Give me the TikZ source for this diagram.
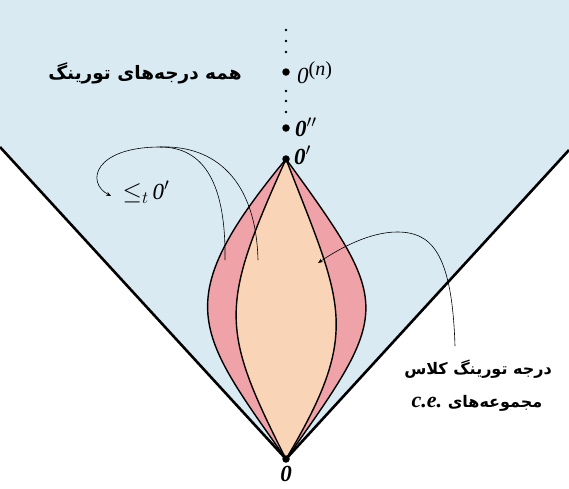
\documentclass[tikz,border=0pt]{standalone}
\usepackage{fontspec}
\setmainfont{Liberation Serif}
\newfontfamily\persian[Script=Arabic]{DejaVu Sans}
\TeXXeTstate=1
\usetikzlibrary{arrows.meta}

\definecolor{skyfill}{HTML}{D9EAF3}
\definecolor{bandfill}{HTML}{EFA2A8}
\definecolor{corefill}{HTML}{FAD4B6}

\tikzset{
  degree/.style={circle, fill=black, inner sep=0pt, minimum size=7.5pt},
  smalldot/.style={circle, fill=black, inner sep=0pt, minimum size=2.8pt},
  degname/.style={inner sep=1pt, font=\fontsize{23}{26}\selectfont},
  persianlbl/.style={inner sep=1pt, font=\persian\bfseries\fontsize{16}{19}\selectfont},
  lensline/.style={line width=1.4pt},
  thinline/.style={line width=0.6pt},
  pointer/.style={thinline, -{Stealth[length=5pt, width=4pt]}}
}

\begin{document}
\begin{tikzpicture}[x=1pt, y=-1pt]
  \useasboundingbox (0,0) rectangle (569,488);
  \fill[skyfill] (0,0) -- (569,0) -- (569,150) -- (286,459) -- (0,147) -- cycle;
  \draw[line width=2.6pt] (0,147) -- (286,459) -- (569,150);

  \coordinate (lenstop) at (286,159);
  \coordinate (lensbottom) at (286,459);

  \fill[bandfill] (lenstop) .. controls (167,303) and (197,332) .. (lensbottom)
    .. controls (392,310) and (393,306) .. (lenstop);
  \fill[corefill] (lenstop) .. controls (220,306) and (219,327) .. (lensbottom)
    .. controls (363,330) and (342,304) .. (lenstop);
  \draw[lensline] (lenstop) .. controls (167,303) and (197,332) .. (lensbottom);
  \draw[lensline] (lenstop) .. controls (393,306) and (392,310) .. (lensbottom);
  \draw[lensline] (lenstop) .. controls (220,306) and (219,327) .. (lensbottom);
  \draw[lensline] (lenstop) .. controls (342,304) and (363,330) .. (lensbottom);

  \node[degree] (zero) at (lensbottom) {};
  \node[degree] (jump) at (lenstop) {};
  \node[degree] (jumpjump) at (286,128) {};
  \node[degree] (jumpn) at (286,72) {};
  \foreach \y [count=\i] in {30,41,52,91,101,112}
    \node[smalldot] (dot\i) at (286,\y) {};

  \node[degname, anchor=north] (zerolbl) at (286,465) {\bfseries\itshape 0};
  \node[degname, anchor=west] (jumplbl) at (293,155) {\bfseries\itshape 0$'$};
  \node[degname, anchor=west] (jumpjumplbl) at (294,127) {\bfseries\itshape 0$''$};
  \node[degname, anchor=west] (jumpnlbl) at (296,73) {\itshape 0\raisebox{8pt}{\fontsize{20}{22}\selectfont\upshape(\textit{n})}};
  \node[degname] (belowjump) at (146,192) {$\leq_t$\,\itshape 0$'$};

  \node[persianlbl, font=\persian\bfseries\fontsize{18.5}{22}\selectfont] (alldeg) at (145,73) {\beginR همه درجه^^^^200cهای تورینگ\endR};
  \node[persianlbl] (cedeg) at (478,369) {\beginR درجه تورینگ کلاس\endR};
  \node[persianlbl] (cesets) at (477,403) {\beginR مجموعه^^^^200cهای \beginL{\rmfamily\bfseries\itshape\fontsize{22}{24}\selectfont c.e.}\endL\endR};

  \coordinate (bandtip) at (225,260);
  \coordinate (coretip) at (258,260);
  \coordinate (fork) at (160,147);
  \coordinate (looptip) at (111,196);
  \coordinate (sidetip) at (455,346);
  \coordinate (coreaim) at (318,263);

  \draw[thinline] (bandtip) .. controls (226,185) and (205,147) .. (fork);
  \draw[thinline] (coretip) .. controls (256,180) and (215,145) .. (fork);
  \draw[pointer] (fork) .. controls (95,147) and (85,182) .. (looptip);
  \draw[pointer] (sidetip) .. controls (452,250) and (430,232) .. (397,232) .. controls (370,232) and (340,248) .. (coreaim);
\end{tikzpicture}
\end{document}
